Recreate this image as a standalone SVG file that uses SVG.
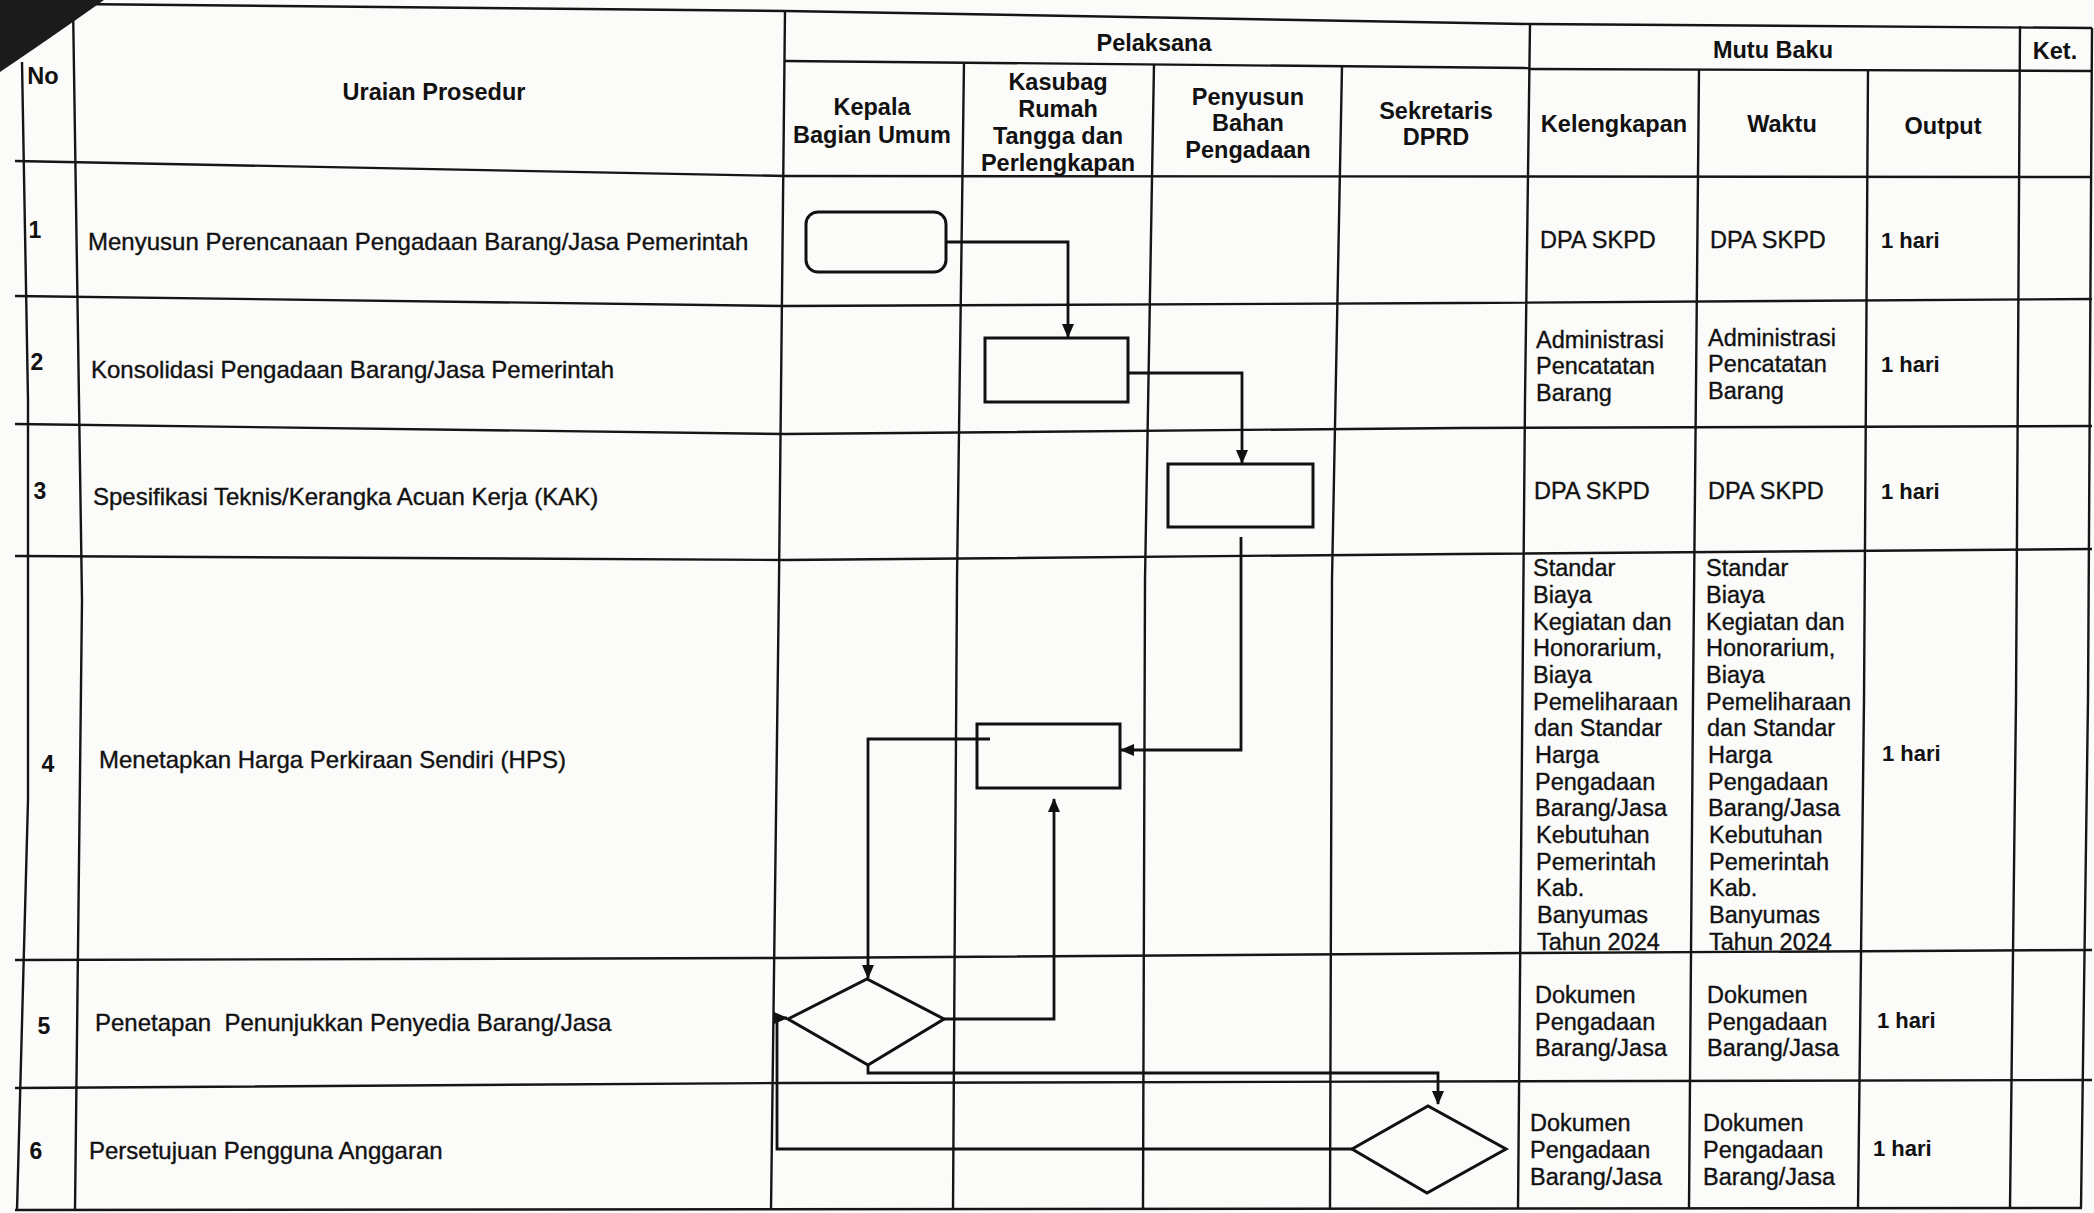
<svg xmlns="http://www.w3.org/2000/svg" width="2094" height="1213" viewBox="0 0 2094 1213">
<style>
.bg{fill:#fbfbfa}
.grid{fill:none;stroke:#151515;stroke-width:2.4;stroke-linejoin:round}
.shape{fill:none;stroke:#111;stroke-width:3}
.conn{fill:none;stroke:#111;stroke-width:2.8;stroke-linejoin:miter}
.h{font-family:"Liberation Sans",Arial,sans-serif;font-weight:bold;font-size:23.5px;fill:#111;text-anchor:middle}
.n{font-family:"Liberation Sans",Arial,sans-serif;font-weight:bold;font-size:23px;fill:#111;text-anchor:middle}
.t{font-family:"Liberation Sans",Arial,sans-serif;font-size:24px;fill:#111;stroke:#111;stroke-width:0.35}
.c{font-family:"Liberation Sans",Arial,sans-serif;font-size:23.5px;fill:#111;stroke:#111;stroke-width:0.35}
.o{font-family:"Liberation Sans",Arial,sans-serif;font-weight:bold;font-size:22px;fill:#111}
</style>
<defs>
<marker id="arr" viewBox="0 0 14 12" refX="13" refY="6" markerWidth="14" markerHeight="12" markerUnits="userSpaceOnUse" orient="auto">
<path d="M0,0 L14,6 L0,12 Z" fill="#111"/>
</marker>
</defs>
<rect class="bg" x="0" y="0" width="2094" height="1213"/>

<g id="table">
<polyline class="grid" points="72,4 785,11 1530,24 2092,28"/>
<polyline class="grid" points="785,61 1530,68"/>
<polyline class="grid" points="1530,69 2092,71"/>
<polyline class="grid" points="15,161 785,176 2092,177"/>
<polyline class="grid" points="15,296 785,306 1460,303 2092,299"/>
<polyline class="grid" points="15,424 785,434 1460,428 2092,426"/>
<polyline class="grid" points="15,556 785,560 1460,554 2092,549"/>
<polyline class="grid" points="15,960 785,958 1530,953 2092,950"/>
<polyline class="grid" points="15,1088 785,1083 2092,1080"/>
<polyline class="grid" points="15,1210 2082,1208"/>
<polyline class="grid" points="22,62 28,400 28,800 17,1210"/>
<polyline class="grid" points="73,4 82,600 75,1210"/>
<polyline class="grid" points="785,11 779,580 771,1210"/>
<polyline class="grid" points="964,62 957,580 953,1210"/>
<polyline class="grid" points="1154,64 1145,580 1143,1210"/>
<polyline class="grid" points="1342,66 1332,580 1330,1210"/>
<polyline class="grid" points="1530,24 1525,400 1518,1209"/>
<polyline class="grid" points="1699,70 1693,700 1689,1209"/>
<polyline class="grid" points="1868,70 1864,700 1858,1209"/>
<polyline class="grid" points="2020,26 2016,700 2010,1208"/>
<polyline class="grid" points="2092,28 2088,700 2081,1208"/>
<path d="M0,0 L104,0 Q62,30 0,72 Z" fill="#1b1b1b"/>

<text class="h" x="43" y="76" dy="0.35em">No</text>
<text class="h" x="434" y="92" dy="0.35em">Uraian Prosedur</text>
<text class="h" x="1154" y="43" dy="0.35em">Pelaksana</text>
<text class="h" x="872" y="107" dy="0.35em">Kepala</text>
<text class="h" x="872" y="135" dy="0.35em">Bagian Umum</text>
<text class="h" x="1058" y="82" dy="0.35em">Kasubag</text>
<text class="h" x="1058" y="109" dy="0.35em">Rumah</text>
<text class="h" x="1058" y="136" dy="0.35em">Tangga dan</text>
<text class="h" x="1058" y="163" dy="0.35em">Perlengkapan</text>
<text class="h" x="1248" y="97" dy="0.35em">Penyusun</text>
<text class="h" x="1248" y="123" dy="0.35em">Bahan</text>
<text class="h" x="1248" y="150" dy="0.35em">Pengadaan</text>
<text class="h" x="1436" y="111" dy="0.35em">Sekretaris</text>
<text class="h" x="1436" y="137" dy="0.35em">DPRD</text>
<text class="h" x="1773" y="50" dy="0.35em">Mutu Baku</text>
<text class="h" x="2055" y="51" dy="0.35em">Ket.</text>
<text class="h" x="1614" y="124" dy="0.35em">Kelengkapan</text>
<text class="h" x="1782" y="124" dy="0.35em">Waktu</text>
<text class="h" x="1943" y="126" dy="0.35em">Output</text>

<text class="n" x="35" y="230" dy="0.35em">1</text>
<text class="n" x="37" y="362" dy="0.35em">2</text>
<text class="n" x="40" y="491" dy="0.35em">3</text>
<text class="n" x="48" y="764" dy="0.35em">4</text>
<text class="n" x="44" y="1026" dy="0.35em">5</text>
<text class="n" x="36" y="1151" dy="0.35em">6</text>

<text class="t" x="88" y="242" dy="0.35em">Menyusun Perencanaan Pengadaan Barang/Jasa Pemerintah</text>
<text class="t" x="91" y="370" dy="0.35em">Konsolidasi Pengadaan Barang/Jasa Pemerintah</text>
<text class="t" x="93" y="497" dy="0.35em">Spesifikasi Teknis/Kerangka Acuan Kerja (KAK)</text>
<text class="t" x="99" y="760" dy="0.35em">Menetapkan Harga Perkiraan Sendiri (HPS)</text>
<text class="t" x="95" y="1023" dy="0.35em" xml:space="preserve" style="white-space:pre">Penetapan  Penunjukkan Penyedia Barang/Jasa</text>
<text class="t" x="89" y="1151" dy="0.35em">Persetujuan Pengguna Anggaran</text>

<text class="c" x="1540" y="240" dy="0.35em">DPA SKPD</text>
<text class="c" x="1710" y="240" dy="0.35em">DPA SKPD</text>
<text class="o" x="1881" y="240" dy="0.35em">1 hari</text>
<text class="c" x="1536" y="340" dy="0.35em">Administrasi</text>
<text class="c" x="1536" y="366" dy="0.35em">Pencatatan</text>
<text class="c" x="1536" y="393" dy="0.35em">Barang</text>
<text class="c" x="1708" y="338" dy="0.35em">Administrasi</text>
<text class="c" x="1708" y="364" dy="0.35em">Pencatatan</text>
<text class="c" x="1708" y="391" dy="0.35em">Barang</text>
<text class="o" x="1881" y="364" dy="0.35em">1 hari</text>
<text class="c" x="1534" y="491" dy="0.35em">DPA SKPD</text>
<text class="c" x="1708" y="491" dy="0.35em">DPA SKPD</text>
<text class="o" x="1881" y="491" dy="0.35em">1 hari</text>
<text class="c" x="1533" y="568" dy="0.35em">Standar</text>
<text class="c" x="1533" y="595" dy="0.35em">Biaya</text>
<text class="c" x="1533" y="622" dy="0.35em">Kegiatan dan</text>
<text class="c" x="1533" y="648" dy="0.35em">Honorarium,</text>
<text class="c" x="1533" y="675" dy="0.35em">Biaya</text>
<text class="c" x="1533" y="702" dy="0.35em">Pemeliharaan</text>
<text class="c" x="1534" y="728" dy="0.35em">dan Standar</text>
<text class="c" x="1535" y="755" dy="0.35em">Harga</text>
<text class="c" x="1535" y="782" dy="0.35em">Pengadaan</text>
<text class="c" x="1535" y="808" dy="0.35em">Barang/Jasa</text>
<text class="c" x="1536" y="835" dy="0.35em">Kebutuhan</text>
<text class="c" x="1536" y="862" dy="0.35em">Pemerintah</text>
<text class="c" x="1536" y="888" dy="0.35em">Kab.</text>
<text class="c" x="1537" y="915" dy="0.35em">Banyumas</text>
<text class="c" x="1537" y="942" dy="0.35em">Tahun 2024</text>
<text class="c" x="1706" y="568" dy="0.35em">Standar</text>
<text class="c" x="1706" y="595" dy="0.35em">Biaya</text>
<text class="c" x="1706" y="622" dy="0.35em">Kegiatan dan</text>
<text class="c" x="1706" y="648" dy="0.35em">Honorarium,</text>
<text class="c" x="1706" y="675" dy="0.35em">Biaya</text>
<text class="c" x="1706" y="702" dy="0.35em">Pemeliharaan</text>
<text class="c" x="1707" y="728" dy="0.35em">dan Standar</text>
<text class="c" x="1708" y="755" dy="0.35em">Harga</text>
<text class="c" x="1708" y="782" dy="0.35em">Pengadaan</text>
<text class="c" x="1708" y="808" dy="0.35em">Barang/Jasa</text>
<text class="c" x="1709" y="835" dy="0.35em">Kebutuhan</text>
<text class="c" x="1709" y="862" dy="0.35em">Pemerintah</text>
<text class="c" x="1709" y="888" dy="0.35em">Kab.</text>
<text class="c" x="1709" y="915" dy="0.35em">Banyumas</text>
<text class="c" x="1709" y="942" dy="0.35em">Tahun 2024</text>
<text class="o" x="1882" y="753" dy="0.35em">1 hari</text>
<text class="c" x="1535" y="995" dy="0.35em">Dokumen</text>
<text class="c" x="1535" y="1022" dy="0.35em">Pengadaan</text>
<text class="c" x="1535" y="1048" dy="0.35em">Barang/Jasa</text>
<text class="c" x="1707" y="995" dy="0.35em">Dokumen</text>
<text class="c" x="1707" y="1022" dy="0.35em">Pengadaan</text>
<text class="c" x="1707" y="1048" dy="0.35em">Barang/Jasa</text>
<text class="o" x="1877" y="1020" dy="0.35em">1 hari</text>
<text class="c" x="1530" y="1123" dy="0.35em">Dokumen</text>
<text class="c" x="1530" y="1150" dy="0.35em">Pengadaan</text>
<text class="c" x="1530" y="1177" dy="0.35em">Barang/Jasa</text>
<text class="c" x="1703" y="1123" dy="0.35em">Dokumen</text>
<text class="c" x="1703" y="1150" dy="0.35em">Pengadaan</text>
<text class="c" x="1703" y="1177" dy="0.35em">Barang/Jasa</text>
<text class="o" x="1873" y="1148" dy="0.35em">1 hari</text>
</g>

<g id="node-start"><rect class="shape" x="806" y="212" width="140" height="60" rx="12"/></g>
<g id="node-konsolidasi"><rect class="shape" x="985" y="338" width="143" height="64"/></g>
<g id="node-spesifikasi"><rect class="shape" x="1168" y="464" width="145" height="63"/></g>
<g id="node-hps"><rect class="shape" x="977" y="724" width="143" height="64"/></g>
<g id="node-penetapan"><polygon class="shape" points="788,1019 867,979 944,1019 868,1065"/></g>
<g id="node-persetujuan"><polygon class="shape" points="1352,1149 1428,1106 1506,1149 1427,1193"/></g>

<g id="connectors">
<path class="conn" d="M946,242 H1068 V337" marker-end="url(#arr)"/>
<path class="conn" d="M1128,373 H1242 V463" marker-end="url(#arr)"/>
<path class="conn" d="M1241,537 V750 H1121" marker-end="url(#arr)"/>
<path class="conn" d="M990,739 H868 V978" marker-end="url(#arr)"/>
<path class="conn" d="M944,1019 H1054 V799" marker-end="url(#arr)"/>
<path class="conn" d="M868,1065 V1073 H1438 V1104" marker-end="url(#arr)"/>
<path class="conn" d="M1352,1149 H777 V1018 H787" marker-end="url(#arr)"/>
</g>
</svg>
